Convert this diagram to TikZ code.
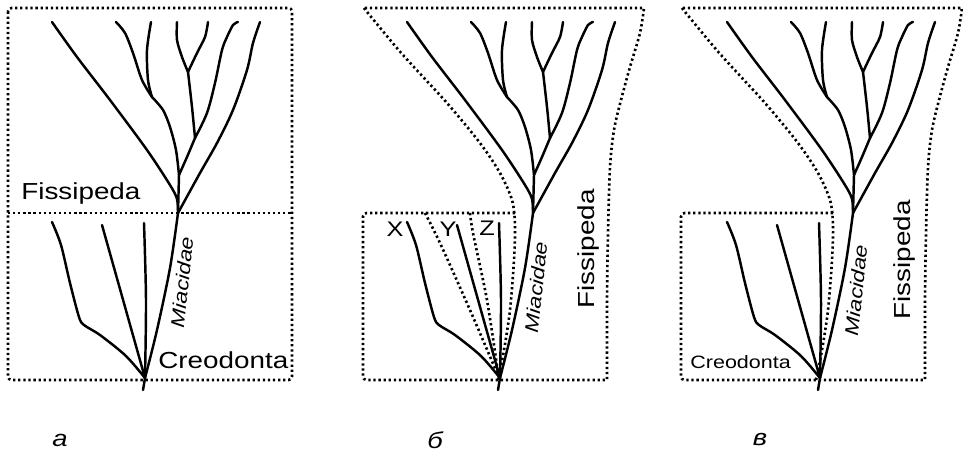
\documentclass[tikz,border=0pt]{standalone}
\usepackage{fontspec}
\newfontfamily\figfont[FakeStretch=1.2]{Liberation Sans}
\usetikzlibrary{positioning, calc}

% one tree, drawn in the coordinates of panel a
\newcommand{\carnivoretree}{%
    \coordinate (root) at (143,390);
    \coordinate (base) at (145,378);
    \coordinate (fork) at (178,213);
    \coordinate (ja) at (179,175);
    \coordinate (jb) at (152,97);
    \coordinate (jc) at (195,138);
    \coordinate (jd) at (188,72);
    % stem
    \draw[branch] (root) -- (base);
    \draw[branch] plot[smooth] coordinates {(base) (157,330) (170,268) (fork)} -- (ja);
    % lower branches
    \draw[branch] plot[smooth] coordinates {(base) (146,300) (144,223)};
    \draw[branch] (base) -- (102,225);
    \draw[branch] plot[smooth, tension=0.5] coordinates {(base) (126,356) (100,335) (84,325) (79,317) (70,283) (61,245) (52,222)};
    % upper branches
    \draw[branch] plot[smooth] coordinates {(fork) (200,173) (217,143) (233,110) (247,70) (253,43) (260,22)};
    \draw[branch] plot[smooth] coordinates {(fork) (177,199) (170,185) (147,150) (110,100) (77,57) (52,22)};
    \draw[branch] plot[smooth] coordinates {(ja) (176,150) (170,127) (163,110) (jb)};
    \draw[branch] plot[smooth] coordinates {(jb) (142,80) (133,53) (125,33) (116,22)};
    \draw[branch] plot[smooth] coordinates {(jb) (148,80) (147,50) (151,22)};
    \draw[branch] plot[smooth] coordinates {(ja) (187,157) (jc)};
    \draw[branch] plot[smooth] coordinates {(jc) (192,107) (jd)};
    \draw[branch] plot[smooth] coordinates {(jd) (182,57) (177,40) (177,22)};
    \draw[branch] plot[smooth] coordinates {(jd) (197,53) (205,37) (208,22)};
    \draw[branch] plot[smooth] coordinates {(jc) (207,113) (215,83) (222,50) (227,37) (233,25) (238,22)};
}

% outline of Fissipeda and the lower box, panel b coordinates
\newcommand{\groupoutline}{%
    \draw[boundary] plot[smooth] coordinates {(364,8) (372,18) (403,55) (447,103) (480,143) (500,173) (512,200) (515,225) (514,260) (510,310) (504,350) (498,380)}
        -- plot[smooth] coordinates {(607,380) (607,300) (608,233) (610,167) (614,130) (621,100) (630,67) (640,33) (644,8)} -- cycle;
    \draw[boundary, rounded corners=2pt] (515,213) -- (363,213) -- (363,380) -- (498,380);
}

\begin{document}
\begin{tikzpicture}[
        x=0.02cm, y=-0.02cm,
        branch/.style={line width=1.4pt, line cap=round, line join=round},
        boundary/.style={line width=1.5pt, dash pattern=on 1.3pt off 1.6pt},
        taxon/.style={inner sep=0pt, font=\figfont\fontsize{13.2}{15}\selectfont},
        family/.style={inner sep=0pt, font=\figfont\itshape\fontsize{10.8}{12}\selectfont, rotate=84},
        small/.style={inner sep=0pt, font=\figfont\fontsize{10.2}{12}\selectfont},
        panel/.style={inner sep=0pt, font=\figfont\itshape\fontsize{13}{15}\selectfont}
    ]
    \useasboundingbox (0,0) rectangle (963,461);

    % Panel a
    \begin{scope}[name prefix=a-]
        \carnivoretree
    \end{scope}
    \draw[boundary, rounded corners=2pt] (8,8) rectangle (292,380);
    \draw[boundary] (8,213) -- (292,213);
    \node[taxon, anchor=base west] (a-fiss) at (21,199) {Fissipeda};
    \node[taxon, anchor=base west] (a-creo) at (158,368) {Creodonta};
    \node[family] (a-miac) at (182,282) {Miacidae};
    \node[panel] (a-cap) at (60,440) {а};

    % Panel b
    \begin{scope}[shift={(355,0)}, name prefix=b-]
        \carnivoretree
    \end{scope}
    \groupoutline
    \draw[boundary] plot[smooth] coordinates {(425,213) (440,243) (470,310) (497,373)};
    \draw[boundary] plot[smooth] coordinates {(470,213) (473,233) (487,300) (498,373)};
    \node[small, font=\figfont\fontsize{12}{14}\selectfont] (b-x) at (395,229) {X};
    \node[small, font=\figfont\fontsize{12}{14}\selectfont] (b-y) at (448,229) {Y};
    \node[small, font=\figfont\fontsize{12}{14}\selectfont] (b-z) at (487,228) {Z};
    \node[taxon, rotate=90] (b-fiss) at (588,249) {Fissipeda};
    \node[family] (b-miac) at (536,287) {Miacidae};
    \node[panel] (b-cap) at (435,440) {б};

    % Panel c
    \begin{scope}[shift={(675,0)}, name prefix=c-]
        \carnivoretree
    \end{scope}
    \begin{scope}[shift={(318,0)}]
        \groupoutline
    \end{scope}
    \node[small, anchor=base west] (c-creo) at (690,368) {Creodonta};
    \node[taxon, rotate=90] (c-fiss) at (904,260) {Fissipeda};
    \node[family] (c-miac) at (856,290) {Miacidae};
    \node[panel] (c-cap) at (760,440) {в};

\end{tikzpicture}
\end{document}
